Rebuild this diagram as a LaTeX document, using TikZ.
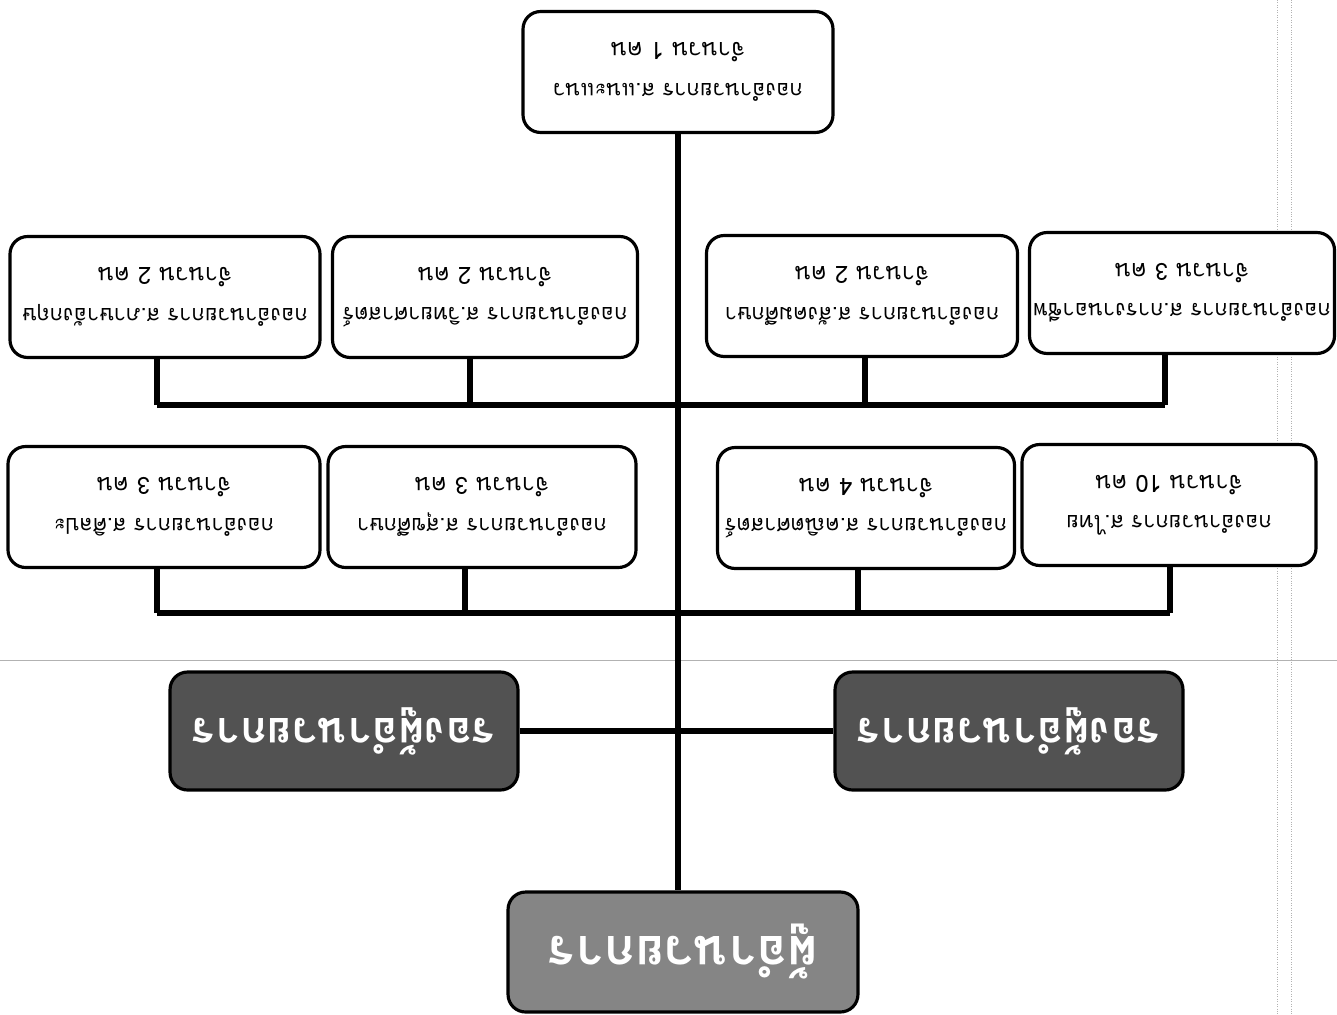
\documentclass[tikz,border=0pt]{standalone}
\usepackage{fontspec}
\newfontfamily\thaifont[Script=Thai]{Loma}
\usetikzlibrary{positioning}
\tikzset{
  unit box/.style={
    draw=black, line width=1.8pt, rounded corners=10pt,
    fill=white, rotate=180, align=center, inner xsep=2pt,
    minimum width={#1*0.02cm}, minimum height=2.42cm,
    font=\thaifont\fontsize{12.5}{23}\selectfont,
  },
  head box/.style={
    draw=black, line width=1.8pt, rounded corners=10pt,
    fill=black!68, text=white, rotate=180,
    minimum width=6.96cm, minimum height=2.36cm,
    font=\thaifont\bfseries\fontsize{25}{28}\selectfont,
  },
  link/.style={line width=3.5pt},
  scan mark/.style={gray!60, line width=0.4pt},
}
\begin{document}
\begin{tikzpicture}[x=0.02cm, y=-0.02cm]
  \useasboundingbox (0,0) rectangle (1337,1014);
  % scan marks
  \draw[scan mark] (0,660) -- (1337,660);
  \draw[scan mark, densely dotted] (1277,0) -- (1277,1014);
  \draw[scan mark, densely dotted] (1291,0) -- (1291,1014);
  % top of the page (chart turned over)
  \node [unit box=310] (guide) at (678,72) {กองอำนวยการ ส.แนะแนว\\\fontsize{13.5}{23}\selectfont จำนวน 1 คน};
  % first row
  \node [unit box=310] (a1) at (165,297) {กองอำนวยการ ส.ภาษาอังกฤษ\\\fontsize{13.5}{23}\selectfont จำนวน 2 คน};
  \node [unit box=305] (a2) at (485,297) {กองอำนวยการ ส.วิทยาศาสตร์\\\fontsize{13.5}{23}\selectfont จำนวน 2 คน};
  \node [unit box=311] (a3) at (862,296) {กองอำนวยการ ส.สังคมศึกษา\\\fontsize{13.5}{23}\selectfont จำนวน 2 คน};
  \node [unit box=305] (a4) at (1182,293) {กองอำนวยการ ส.การงานอาชีพ\\\fontsize{13.5}{23}\selectfont จำนวน 3 คน};
  % second row
  \node [unit box=312] (b1) at (164,507) {กองอำนวยการ ส.ศิลปะ\\\fontsize{13.5}{23}\selectfont จำนวน 3 คน};
  \node [unit box=308] (b2) at (482,507) {กองอำนวยการ ส.สุขศึกษา\\\fontsize{13.5}{23}\selectfont จำนวน 3 คน};
  \node [unit box=297] (b3) at (866,508) {กองอำนวยการ ส.คณิตศาสตร์\\\fontsize{13.5}{23}\selectfont จำนวน 4 คน};
  \node [unit box=294] (b4) at (1169,505) {กองอำนวยการ ส.ไทย\\\fontsize{13.5}{23}\selectfont จำนวน 10 คน};
  % deputies and director
  \node [head box] (dep1) at (344,731) {รองผู้อำนวยการ};
  \node [head box] (dep2) at (1009,731) {รองผู้อำนวยการ};
  \node [head box, fill=black!48, minimum width=7cm, minimum height=2.4cm,
         font=\thaifont\bfseries\fontsize{29}{30}\selectfont] (boss) at (683,952) {ผู้อำนวยการ};
  % bus lines
  \coordinate (bus1) at (157,405);
  \coordinate (bus1 end) at (1165,405);
  \coordinate (bus2) at (157,613);
  \coordinate (bus2 end) at (1170,613);
  \draw[link] (bus1) -- (bus1 end);
  \draw[link] (bus2) -- (bus2 end);
  \foreach \n/\x in {a1/157,a2/470,a3/865,a4/1165}
    \draw[link] (\x,405) -- (\x,405 |- \n.north);
  \foreach \n/\x in {b1/157,b2/465,b3/858,b4/1170}
    \draw[link] (\x,613) -- (\x,613 |- \n.north);
  \draw[link] (guide) -- (guide |- boss.south);
  \draw[link] (dep1) -- (dep2);
\end{tikzpicture}
\end{document}
